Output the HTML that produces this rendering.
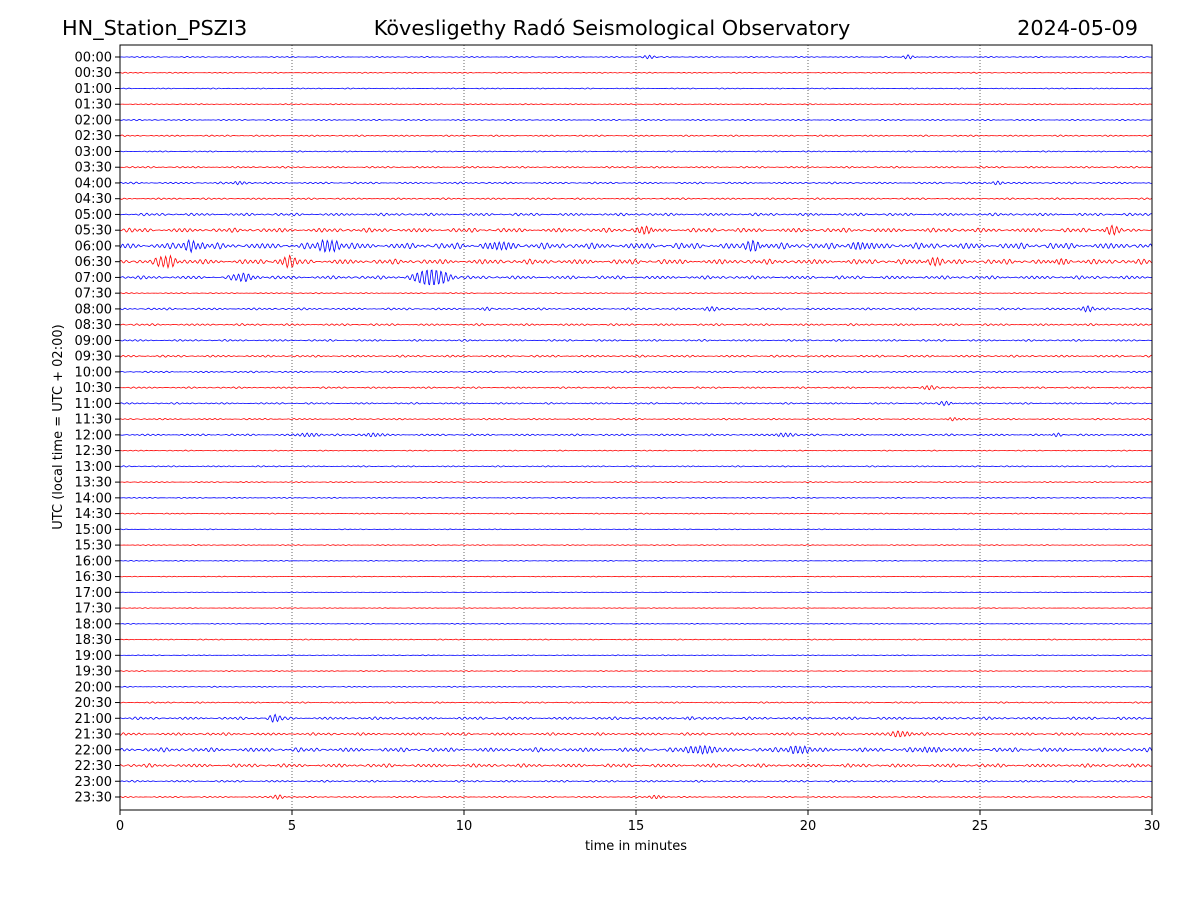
<!DOCTYPE html>
<html><head><meta charset="utf-8"><style>
html,body{margin:0;padding:0;background:#fff;}
svg text{font-family:"DejaVu Sans","Liberation Sans",sans-serif;fill:#000;}
</style></head><body>
<svg id="chart" width="1200" height="900" viewBox="0 0 1200 900" xmlns="http://www.w3.org/2000/svg">
<rect width="1200" height="900" fill="#fff"/>
<text x="62" y="35" font-size="20.8">HN_Station_PSZI3</text>
<text x="612" y="35" font-size="20.8" text-anchor="middle">Kövesligethy Radó Seismological Observatory</text>
<text x="1138" y="35" font-size="20.8" text-anchor="end">2024-05-09</text>
<g id="grid"></g>
<g id="traces"></g>
<rect x="120" y="45" width="1032" height="765" fill="none" stroke="#000" stroke-width="1"/>
<g id="axes"></g>
<text x="636" y="850" font-size="13" text-anchor="middle">time in minutes</text>
<text transform="translate(62,427) rotate(-90)" font-size="13" text-anchor="middle">UTC (local time = UTC + 02:00)</text>
</svg>
<script>
const rowLabels = ["00:00","00:30","01:00","01:30","02:00","02:30","03:00","03:30","04:00","04:30","05:00","05:30","06:00","06:30","07:00","07:30","08:00","08:30","09:00","09:30","10:00","10:30","11:00","11:30","12:00","12:30","13:00","13:30","14:00","14:30","15:00","15:30","16:00","16:30","17:00","17:30","18:00","18:30","19:00","19:30","20:00","20:30","21:00","21:30","22:00","22:30","23:00","23:30"];
const xTicks = [0,5,10,15,20,25,30];
const rowNoise = [0.5,0.5,0.5,0.5,0.6,0.7,0.6,0.8,0.9,0.8,1.3,2.0,2.9,2.4,1.6,0.5,1.0,1.0,0.9,1.0,0.8,0.8,0.8,0.7,0.9,0.5,0.6,0.5,0.5,0.5,0.4,0.4,0.4,0.4,0.3,0.3,0.4,0.5,0.4,0.4,0.5,0.7,1.3,1.3,2.0,1.7,0.9,0.6];
const eventRow = [0,0,8,8,11,11,12,12,12,12,12,13,13,13,13,14,14,16,16,16,22,24,24,24,24,42,42,43,44,44,44,47,47,21,23];
const eventMinute = [15.4,22.9,3.5,25.5,15.3,28.9,2.1,6.1,11.0,18.4,21.5,1.4,4.9,23.7,27.3,9.1,3.6,28.1,10.7,17.2,24.0,5.5,7.3,19.3,27.2,4.5,16.6,22.7,16.9,19.7,23.6,4.6,15.6,23.5,24.2];
const eventAmp = [2,2,2,2,5,4,5,6,6,5,5,5,4,4,4,9,3,3,2,2,2,2,2,2,2,3,2,3,4,4,3,2,2,2,2];
const eventDur = [0.2,0.2,0.2,0.2,0.3,0.3,0.3,0.3,0.4,0.3,0.3,0.3,0.3,0.3,0.3,0.5,0.4,0.2,0.2,0.3,0.2,0.3,0.3,0.3,0.2,0.2,0.2,0.3,0.4,0.3,0.3,0.2,0.2,0.2,0.2];

const NS="http://www.w3.org/2000/svg";
const X0=120,X1=1152,Y0=57,Y1=797;
const xScale=m=>X0+(m/30)*(X1-X0);
const yScale=i=>Y0+i*(Y1-Y0)/(rowLabels.length-1);
const grid=document.getElementById('grid'),traces=document.getElementById('traces'),axes=document.getElementById('axes');
function mk(tag,attrs,parent){const e=document.createElementNS(NS,tag);for(const k in attrs)e.setAttribute(k,attrs[k]);parent.appendChild(e);return e;}

xTicks.forEach(t=>{
  const x=xScale(t);
  if(t>0&&t<30){const g=mk('line',{x1:x,x2:x,y1:45,y2:810,stroke:'#000','stroke-width':0.6,'stroke-dasharray':'1,2'},grid);
    
    }
  const tk=mk('line',{x1:x,x2:x,y1:810,y2:815,stroke:'#000'},axes);
  
  
  const tx=mk('text',{x:x,y:830,'font-size':13,'text-anchor':'middle'},axes);tx.textContent=t;
  
  
});

rowLabels.forEach((lab,i)=>{
  const y=yScale(i);
  const tk=mk('line',{x1:115,x2:120,y1:y,y2:y,stroke:'#000'},axes);
  
  
  const tx=mk('text',{x:112,y:y+4.5,'font-size':13,'text-anchor':'end'},axes);tx.textContent=lab;
  
  
  let d='';
  for(let px=X0;px<=X1;px+=0.8){
    const m=(px-X0)/(X1-X0)*30;
    let v=rowNoise[i]*(Math.sin(m*41+i*1.7)*Math.sin(m*2.3+i*0.9)*0.8+Math.sin(m*29.7+i*3.1)*0.35*Math.sin(m*0.9+i));
    for(let k=0;k<eventRow.length;k++){
      if(eventRow[k]!==i)continue;
      const dm=(m-eventMinute[k])/eventDur[k];
      if(Math.abs(dm)<4)v+=eventAmp[k]*Math.exp(-dm*dm)*Math.sin(m*45+k);
    }
    d+=(d?'L':'M')+px.toFixed(1)+','+(y-v).toFixed(2);
  }
  const p=mk('path',{d:d,fill:'none',stroke:i%2===0?'#0000ff':'#ff0000','stroke-width':0.8},traces);
  
  
});
</script>
</body></html>
